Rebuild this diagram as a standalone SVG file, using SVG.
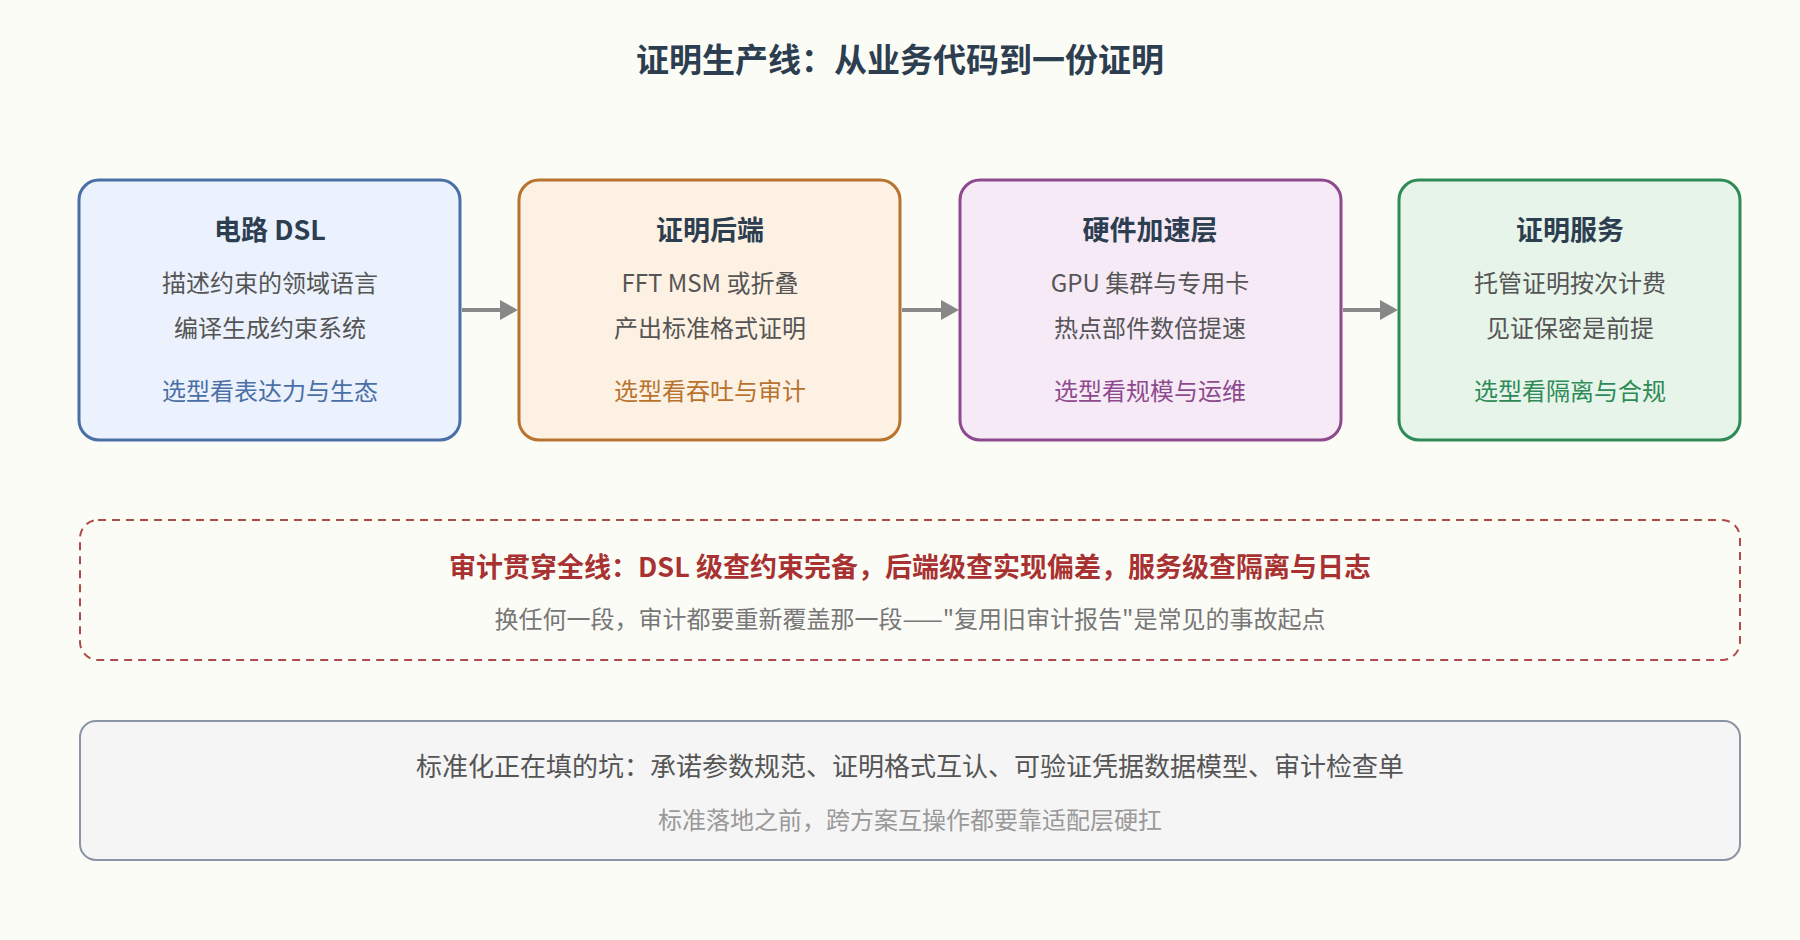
<svg xmlns="http://www.w3.org/2000/svg" width="1800" height="940" viewBox="0 0 1800 940">
<style>
text{font-family:"Noto Sans CJK SC","Noto Sans",sans-serif;text-anchor:middle}
.t{font-size:33px;font-weight:bold;fill:#2c3e50}
.h{font-size:27px;font-weight:bold;fill:#2c3e50}
.b{font-size:24px;fill:#555}
.box{stroke-width:3}
</style>
<rect width="1800" height="940" fill="#fcfcf7"/>
<text class="t" x="900" y="72">证明生产线：从业务代码到一份证明</text>
<g id="n1"><rect class="box" x="79" y="180" width="381" height="260" rx="20" fill="#ebf2fd" stroke="#4a6fa5"/>
<text class="h" x="270" y="240">电路 DSL</text><text class="b" x="270" y="292">描述约束的领域语言</text><text class="b" x="270" y="337">编译生成约束系统</text><text class="b" x="270" y="400" style="fill:#4a6fa5">选型看表达力与生态</text></g>
<g id="n2"><rect class="box" x="519" y="180" width="381" height="260" rx="20" fill="#fdf1e3" stroke="#b8732e"/>
<text class="h" x="710" y="240">证明后端</text><text class="b" x="710" y="292">FFT MSM 或折叠</text><text class="b" x="710" y="337">产出标准格式证明</text><text class="b" x="710" y="400" style="fill:#b8732e">选型看吞吐与审计</text></g>
<g id="n3"><rect class="box" x="960" y="180" width="381" height="260" rx="20" fill="#f6eaf7" stroke="#8e4a8e"/>
<text class="h" x="1150" y="240">硬件加速层</text><text class="b" x="1150" y="292">GPU 集群与专用卡</text><text class="b" x="1150" y="337">热点部件数倍提速</text><text class="b" x="1150" y="400" style="fill:#8e4a8e">选型看规模与运维</text></g>
<g id="n4"><rect class="box" x="1399" y="180" width="341" height="260" rx="20" fill="#e7f4ea" stroke="#2e8b57"/>
<text class="h" x="1570" y="240">证明服务</text><text class="b" x="1570" y="292">托管证明按次计费</text><text class="b" x="1570" y="337">见证保密是前提</text><text class="b" x="1570" y="400" style="fill:#2e8b57">选型看隔离与合规</text></g>
<g id="connectors" fill="#888" stroke="#888">
<line x1="462" y1="310" x2="503" y2="310" stroke-width="4"/><polygon points="500,300 518,310 500,320" stroke="none"/>
<line x1="902" y1="310" x2="944" y2="310" stroke-width="4"/><polygon points="941,300 959,310 941,320" stroke="none"/>
<line x1="1343" y1="310" x2="1383" y2="310" stroke-width="4"/><polygon points="1380,300 1398,310 1380,320" stroke="none"/>
</g>
<g id="audit"><rect x="80" y="520" width="1660" height="140" rx="18" fill="none" stroke="#b04a4a" stroke-width="2" stroke-dasharray="8,6"/>
<text class="h" x="910" y="577" style="fill:#a83232">审计贯穿全线：DSL 级查约束完备，后端级查实现偏差，服务级查隔离与日志</text>
<text class="b" x="910" y="628" style="fill:#777">换任何一段，审计都要重新覆盖那一段——"复用旧审计报告"是常见的事故起点</text></g>
<g id="std"><rect x="80" y="721" width="1660" height="139" rx="16" fill="#f5f5f5" stroke="#8a94a6" stroke-width="2"/>
<text class="b" x="910" y="776" style="font-size:26px">标准化正在填的坑：承诺参数规范、证明格式互认、可验证凭据数据模型、审计检查单</text>
<text class="b" x="910" y="829" style="fill:#999">标准落地之前，跨方案互操作都要靠适配层硬扛</text></g>
</svg>
